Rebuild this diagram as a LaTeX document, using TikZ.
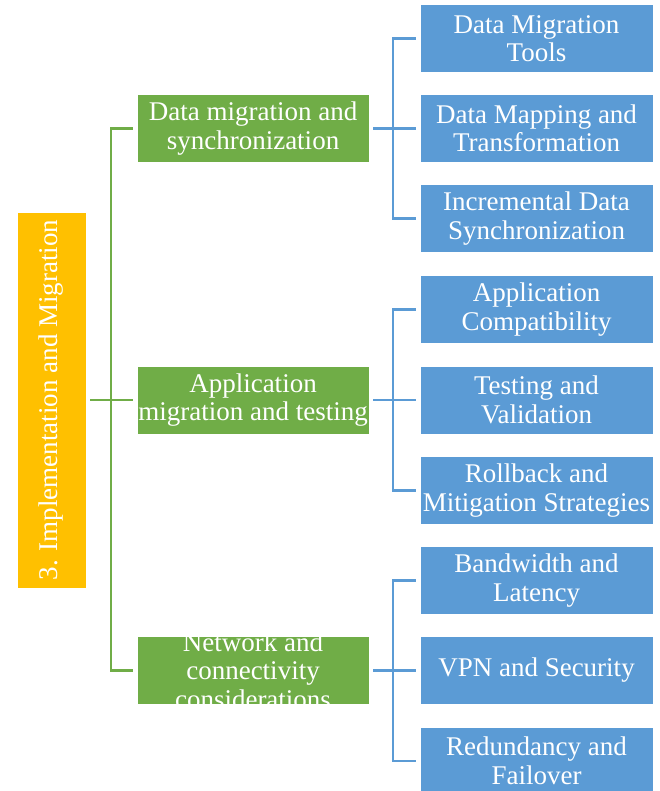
\documentclass[tikz,border=0pt]{standalone}
\usepackage{fontspec}
\setmainfont{Liberation Serif}
\definecolor{orangeC}{HTML}{FFC000}
\definecolor{greenC}{HTML}{70AD47}
\definecolor{blueC}{HTML}{5B9BD5}
\tikzset{
  boxbase/.style={rectangle, inner sep=0pt, draw=white, line width=0.7pt, text=white, align=center,
    font=\fontsize{27}{28.5}\selectfont},
  obox/.style={boxbase, fill=orangeC, minimum width=69pt, minimum height=376pt},
  gbox/.style={boxbase, fill=greenC, minimum width=232pt, minimum height=68pt},
  bbox/.style={boxbase, fill=blueC, minimum width=233pt, minimum height=68pt},
  txt/.style={inner sep=0pt, text=white, align=center, font=\fontsize{27}{28.5}\selectfont},
  gline/.style={draw=greenC, line width=2.4pt},
  bline/.style={draw=blueC, line width=2.4pt},
}
\begin{document}
\begin{tikzpicture}[x=1pt,y=-1pt]
\clip (0,0) rectangle (659,791);
\fill[white] (0,0) rectangle (659,791);

% root
\node[obox] (o) at (51.5,400) {};
\node[txt, rotate=90] (ot) at (o.center) {3. Implementation and Migration};

% level 1
\node[gbox] (g1) at (253,128.5) {Data migration and\\synchronization};
\node[gbox] (g2) at (253,400) {};
\begin{scope}
  \clip (g2.south west) rectangle (g2.north east);
  \node[txt] (g2t) at (g2.center) {Application\\migration and testing};
\end{scope}
\node[gbox] (g3) at (253,670.5) {};
\begin{scope}
  \clip (g3.south west) rectangle (g3.north east);
  \node[txt] (g3t) at (g3.center) {Network and\\connectivity\\considerations};
\end{scope}

% level 2
\node[bbox] (b1) at (536.5,38.5) {Data Migration\\Tools};
\node[bbox] (b2) at (536.5,128.5) {Data Mapping and\\Transformation};
\node[bbox] (b3) at (536.5,218.5) {Incremental Data\\Synchronization};
\node[bbox] (b4) at (536.5,309.5) {Application\\Compatibility};
\node[bbox] (b5) at (536.5,400) {Testing and\\Validation};
\node[bbox] (b6) at (536.5,490.5) {Rollback and\\Mitigation Strategies};
\node[bbox] (b7) at (536.5,580.5) {Bandwidth and\\Latency};
\node[bbox] (b8) at (536.5,670.5) {VPN and Security};
\node[bbox] (b9) at (536.5,761) {Redundancy and\\Failover};

% helper coordinates
\coordinate (gx) at (111,0);
\coordinate (bx) at (393,0);

% green connectors
\draw[gline] ([xshift=4pt]o.east) -- ([xshift=-4pt]g2.west);
\draw[gline] ([xshift=-4pt]g1.west) -| (gx |- g3.west) -- ([xshift=-4pt]g3.west);

% blue connectors
\draw[bline] ([xshift=4pt]g1.east) -- ([xshift=-4pt]b2.west);
\draw[bline] ([xshift=-4pt]b1.west) -| (bx |- b3.west) -- ([xshift=-4pt]b3.west);
\draw[bline] ([xshift=4pt]g2.east) -- ([xshift=-4pt]b5.west);
\draw[bline] ([xshift=-4pt]b4.west) -| (bx |- b6.west) -- ([xshift=-4pt]b6.west);
\draw[bline] ([xshift=4pt]g3.east) -- ([xshift=-4pt]b8.west);
\draw[bline] ([xshift=-4pt]b7.west) -| (bx |- b9.west) -- ([xshift=-4pt]b9.west);
\end{tikzpicture}
\end{document}
